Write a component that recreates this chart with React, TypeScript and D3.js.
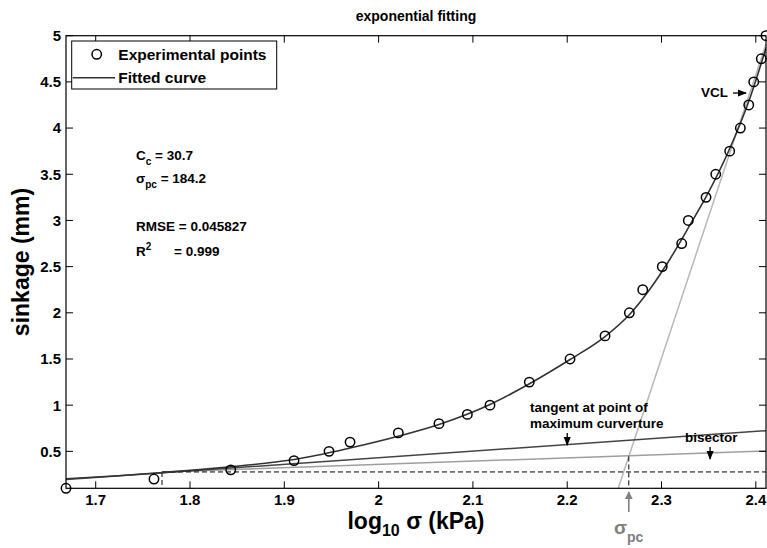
import React from "react";
import * as d3 from "d3";

// ---------- data ----------
const expX = [1.6685, 1.7618, 1.8432, 1.9103, 1.9474, 1.9697, 2.0209, 2.064, 2.0941, 2.1181, 2.1598, 2.203, 2.2401, 2.2659, 2.2801, 2.3008, 2.3214, 2.3284, 2.3472, 2.3575, 2.3723, 2.3836, 2.3925, 2.3978, 2.4058, 2.4108];
const expY = [0.1, 0.2, 0.3, 0.4, 0.5, 0.6, 0.7, 0.8, 0.9, 1.0, 1.25, 1.5, 1.75, 2.0, 2.25, 2.5, 2.75, 3.0, 3.25, 3.5, 3.75, 4.0, 4.25, 4.5, 4.75, 5.0];

const fitX = [1.6685, 1.72, 1.7703, 1.81, 1.8432, 1.88, 1.9103, 1.9697, 2.0216, 2.064, 2.1181, 2.1595, 2.203, 2.2401, 2.2666, 2.2878, 2.309, 2.3302, 2.3472, 2.3726, 2.3938, 2.4108];
const fitY = [0.203, 0.233, 0.27, 0.302, 0.333, 0.372, 0.412, 0.536, 0.666, 0.791, 1.007, 1.229, 1.494, 1.743, 1.987, 2.258, 2.583, 2.951, 3.254, 3.784, 4.326, 4.867];

const tangentX = [1.6685, 2.4108];
const tangentY = [0.194, 0.724];
const bisectorX = [1.7703, 2.4108];
const bisectorY = [0.277, 0.504];
const vclX = [2.2541, 2.4108];
const vclY = [0.1, 4.91];
const maxCurvX = 1.7703;
const maxCurvY = 0.277;
const sigmaPcX = 2.2653;
const sigmaPcY = 0.445;

const xTicks = [1.7, 1.8, 1.9, 2.0, 2.1, 2.2, 2.3, 2.4];
const yTicks = [0.5, 1, 1.5, 2, 2.5, 3, 3.5, 4, 4.5, 5];
const xDomain = [1.6685, 2.4108];
const yDomain = [0.1, 5];

// ---------- layout ----------
const W = 767;
const H = 548;
const L = 66;
const R = 766;
const T = 35.7;
const B = 488.3;
const FONT = "'Liberation Sans', Arial, Helvetica, sans-serif";

export default function App() {
  const x = d3.scaleLinear().domain(xDomain).range([L, R]);
  const y = d3.scaleLinear().domain(yDomain).range([B, T]);
  const pts = (xs: number[], ys: number[]) => xs.map((v, i) => [v, ys[i]] as [number, number]);
  const line = d3.line<[number, number]>().x((d) => x(d[0])).y((d) => y(d[1]));
  const fitLine = d3
    .line<[number, number]>()
    .x((d) => x(d[0]))
    .y((d) => y(d[1]))
    .curve(d3.curveMonotoneX);

  const tick = 7;
  const tickFmt = (v: number) => String(v);

  return (
    <div style={{ position: "absolute", left: 0, top: 0 }}>
      <svg width={W} height={H} style={{ display: "block", background: "#fff" }} fontFamily={FONT}>
        <defs>
          <clipPath id="plotclip">
            <rect x={L} y={T} width={R - L} height={B - T} />
          </clipPath>
          <marker id="arrBlack" viewBox="0 0 10 10" refX="9" refY="5" markerWidth="7" markerHeight="7" orient="auto">
            <path d="M0,1 L10,5 L0,9 Z" fill="#000" />
          </marker>
          <marker id="arrGray" viewBox="0 0 10 10" refX="9" refY="5" markerWidth="5" markerHeight="6" orient="auto">
            <path d="M0,0 L10,5 L0,10 Z" fill="#808080" />
          </marker>
        </defs>
        <rect x={0} y={0} width={W} height={H} fill="#fff" />

        {/* title */}
        <text x={(L + R) / 2} y={21} textAnchor="middle" fontSize={14} fontWeight="bold">
          exponential fitting
        </text>

        <g clipPath="url(#plotclip)">
          {/* VCL */}
          <path d={line(pts(vclX, vclY)) || ""} stroke="#b8b8b8" strokeWidth={1.5} fill="none" />
          {/* bisector */}
          <path d={line(pts(bisectorX, bisectorY)) || ""} stroke="#9e9e9e" strokeWidth={1.5} fill="none" />
          {/* tangent */}
          <path d={line(pts(tangentX, tangentY)) || ""} stroke="#444" strokeWidth={1.5} fill="none" />
          {/* dashed lines */}
          <line x1={x(maxCurvX)} x2={x(xDomain[1])} y1={y(maxCurvY)} y2={y(maxCurvY)} stroke="#000" strokeWidth={1} strokeDasharray="5,3" />
          <line x1={x(maxCurvX)} x2={x(maxCurvX)} y1={y(maxCurvY)} y2={y(yDomain[0])} stroke="#000" strokeWidth={1} strokeDasharray="5,3" />
          <line x1={x(sigmaPcX)} x2={x(sigmaPcX)} y1={y(sigmaPcY)} y2={y(yDomain[0])} stroke="#000" strokeWidth={1} strokeDasharray="5,3" />
          {/* fitted curve */}
          <path d={fitLine(pts(fitX, fitY)) || ""} stroke="#333" strokeWidth={1.6} fill="none" />
        </g>

        {/* experimental points */}
        {expX.map((v, i) => (
          <circle key={i} cx={x(v)} cy={y(expY[i])} r={4.7} fill="none" stroke="#000" strokeWidth={1.5} />
        ))}

        {/* axes box */}
        <rect x={L} y={T} width={R - L} height={B - T} fill="none" stroke="#000" strokeWidth={1.2} />
        {xTicks.map((t) => (
          <g key={"xt" + t}>
            <line x1={x(t)} x2={x(t)} y1={B} y2={B - tick} stroke="#000" />
            <line x1={x(t)} x2={x(t)} y1={T} y2={T + tick} stroke="#000" />
            <text x={x(t)} y={505} textAnchor="middle" fontSize={15} fontWeight="bold">
              {tickFmt(t)}
            </text>
          </g>
        ))}
        {yTicks.map((t) => (
          <g key={"yt" + t}>
            <line x1={L} x2={L + tick} y1={y(t)} y2={y(t)} stroke="#000" />
            <line x1={R} x2={R - tick} y1={y(t)} y2={y(t)} stroke="#000" />
            <text x={61} y={y(t)} dy="0.36em" textAnchor="end" fontSize={15} fontWeight="bold">
              {tickFmt(t)}
            </text>
          </g>
        ))}

        {/* axis labels */}
        <text transform={`translate(21,${(T + B) / 2}) rotate(-90)`} textAnchor="middle" dy="0.36em" fontSize={23} fontWeight="bold">
          sinkage (mm)
        </text>
        <text x={(L + R) / 2} y={529} textAnchor="middle" fontSize={23} fontWeight="bold">
          log
          <tspan fontSize={16} dy={7}>10</tspan>
          <tspan dy={-7}> σ (kPa)</tspan>
        </text>

        {/* legend */}
        <rect x={71.7} y={41} width={205} height={48} fill="#fff" stroke="#000" strokeWidth={1} />
        <circle cx={96.7} cy={54.3} r={4.7} fill="none" stroke="#000" strokeWidth={1.5} />
        <text x={118.3} y={54.3} dy="0.36em" fontSize={15.5} fontWeight="bold">Experimental points</text>
        <line x1={72.7} x2={115} y1={77.7} y2={77.7} stroke="#333" strokeWidth={1.5} />
        <text x={118.3} y={77.7} dy="0.36em" fontSize={15.5} fontWeight="bold">Fitted curve</text>

        {/* stats */}
        <g fontSize={13.5} fontWeight="bold">
          <text x={136} y={155} dy="0.36em">
            C<tspan fontSize={10} dy={5}>c</tspan>
            <tspan dy={-5}> = 30.7</tspan>
          </text>
          <text x={136} y={177.7} dy="0.36em">
            σ<tspan fontSize={10} dy={5}>pc</tspan>
            <tspan dy={-5}> = 184.2</tspan>
          </text>
          <text x={136} y={226} dy="0.36em">RMSE = 0.045827</text>
          <text x={136} y={251} dy="0.36em">
            R<tspan fontSize={10} dy={-6}>2</tspan>
          </text>
          <text x={174} y={251} dy="0.36em">= 0.999</text>
        </g>

        {/* annotations */}
        <g fontSize={13.5} fontWeight="bold">
          <text x={530} y={406.7} dy="0.36em">tangent at point of</text>
          <text x={530} y={423.3} dy="0.36em">maximum curverture</text>
          <line x1={x(2.2)} x2={x(2.2)} y1={433} y2={445} stroke="#000" strokeWidth={1.3} markerEnd="url(#arrBlack)" />
          <text x={685} y={437.3} dy="0.36em">bisector</text>
          <line x1={x(2.3515)} x2={x(2.3515)} y1={447} y2={459} stroke="#000" strokeWidth={1.3} markerEnd="url(#arrBlack)" />
          <text x={701} y={92.3} dy="0.36em">VCL</text>
          <line x1={733} x2={746} y1={93} y2={93} stroke="#000" strokeWidth={1.3} markerEnd="url(#arrBlack)" />
        </g>

        {/* sigma_pc marker */}
        <line x1={x(sigmaPcX)} x2={x(sigmaPcX)} y1={512} y2={492} stroke="#808080" strokeWidth={1.6} markerEnd="url(#arrGray)" />
        <text x={614} y={527} dy="0.36em" fontSize={19} fontWeight="bold" fill="#808080">
          σ<tspan fontSize={14} dy={8}>pc</tspan>
        </text>
      </svg>
    </div>
  );
}
